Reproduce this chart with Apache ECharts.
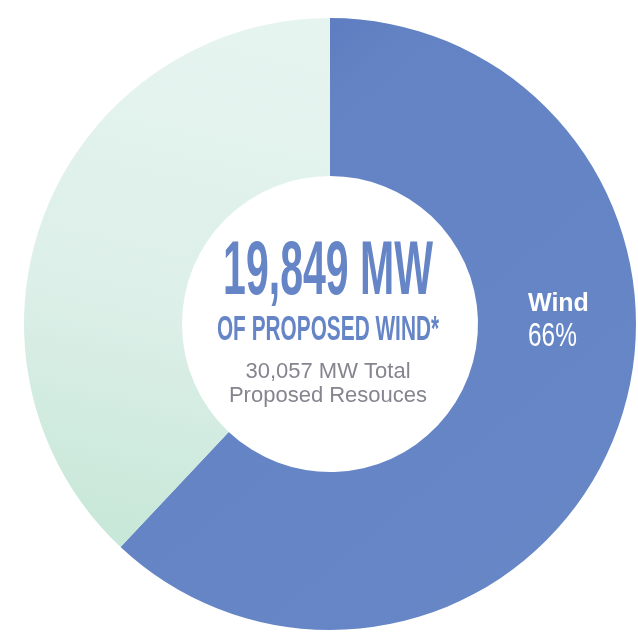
<!DOCTYPE html>
<html>
<head>
<meta charset="utf-8">
<script src="https://cdn.jsdelivr.net/npm/echarts@6/dist/echarts.min.js"></script>
<style>
html,body{margin:0;padding:0;background:#fff;}
#chart{width:638px;height:635px;}
</style>
</head>
<body>
<div id="chart"></div>
<script>
// Data
var categories = ['Wind', 'Other Proposed Resources'];
var sliceShares = [62, 38];          // wedge sizes as drawn in the reference (%)
var windMW = '19,849 MW';
var windSubtitle = 'OF PROPOSED WIND*';
var totalLines = ['30,057 MW Total', 'Proposed Resouces'];
var windLabel = 'Wind';
var windPct = '66%';

var chart = echarts.init(document.getElementById('chart'), null, {renderer: 'canvas'});

var blue = {
  type: 'linear', x: 0, y: 0, x2: 1, y2: 1,
  colorStops: [{offset: 0, color: '#5570ba'}, {offset: 0.25, color: '#6383c4'}, {offset: 1, color: '#6787c7'}]
};
var mint = {
  type: 'linear', x: 0.6, y: 0, x2: 0.2, y2: 1,
  colorStops: [{offset: 0, color: '#e6f4f0'}, {offset: 0.55, color: '#dcefe8'}, {offset: 1, color: '#c6e7d7'}]
};

var option = {
  backgroundColor: '#ffffff',
  animation: false,
  series: [{
    type: 'pie',
    center: [330, 324],
    radius: [148, 306],
    startAngle: 90,
    clockwise: true,
    silent: true,
    z: 2,
    label: {show: false},
    labelLine: {show: false},
    itemStyle: {borderWidth: 0},
    data: categories.map(function (c, i) {
      return {name: c, value: sliceShares[i], itemStyle: {color: i === 0 ? blue : mint}};
    })
  }],
  graphic: {
    elements: [
      {type: 'text', z: 100, x: 328, y: 273, scaleX: 0.54,
       style: {text: windMW, align: 'center', verticalAlign: 'middle',
               font: 'bold 76px "Liberation Sans", Arial, sans-serif', fill: '#6585c6'}},
      {type: 'text', z: 100, x: 328, y: 330, scaleX: 0.595,
       style: {text: windSubtitle, align: 'center', verticalAlign: 'middle',
               font: 'bold 35px "Liberation Sans", Arial, sans-serif', fill: '#6585c6'}},
      {type: 'text', z: 100, x: 328, y: 372,
       style: {text: totalLines[0], align: 'center', verticalAlign: 'middle',
               font: '22px "Liberation Sans", Arial, sans-serif', fill: '#86848e'}},
      {type: 'text', z: 100, x: 328, y: 396,
       style: {text: totalLines[1], align: 'center', verticalAlign: 'middle',
               font: '22px "Liberation Sans", Arial, sans-serif', fill: '#86848e'}},
      {type: 'text', z: 100, x: 528, y: 304,
       style: {text: windLabel, align: 'left', verticalAlign: 'middle',
               font: 'bold 25px "Liberation Sans", Arial, sans-serif', fill: '#ffffff'}},
      {type: 'text', z: 100, x: 528, y: 337, scaleX: 0.74,
       style: {text: windPct, align: 'left', verticalAlign: 'middle',
               font: '33px "Liberation Sans", Arial, sans-serif', fill: '#ffffff'}}
    ]
  }
};
chart.setOption(option);
</script>
</body>
</html>
